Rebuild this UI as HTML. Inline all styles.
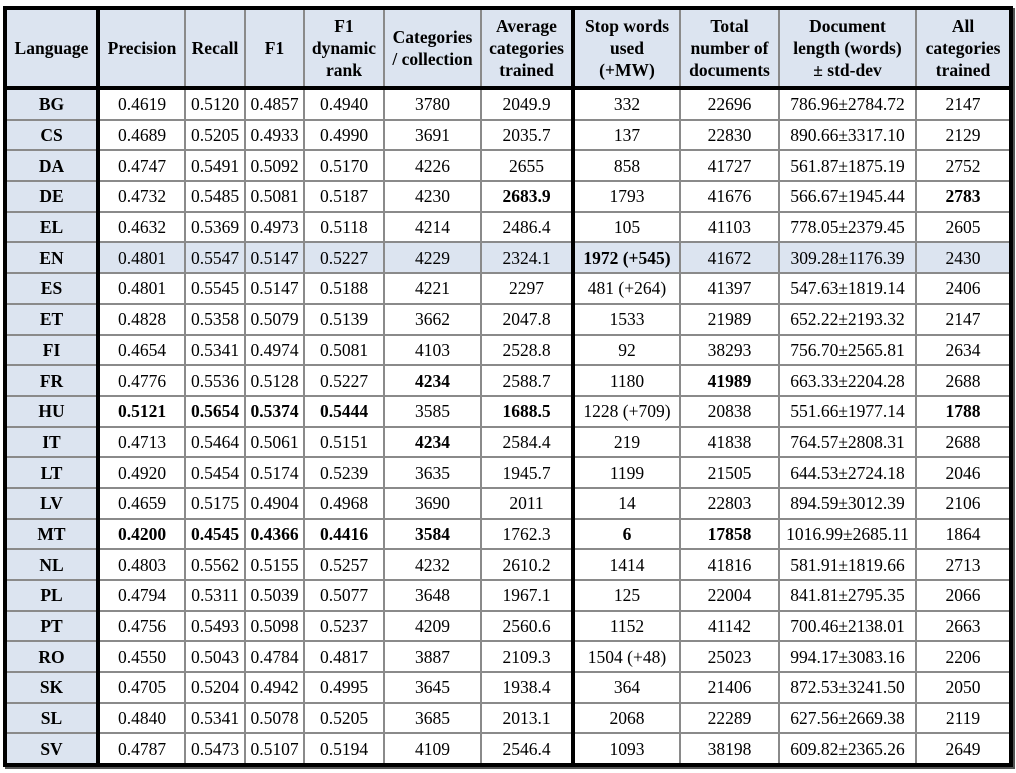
<!DOCTYPE html>
<html><head><meta charset="utf-8">
<style>
html,body{margin:0;padding:0;background:#fff;width:1016px;height:773px;overflow:hidden}
table{position:absolute;left:3px;top:6px;width:1006px;border-collapse:collapse;table-layout:fixed;
 font-family:"Liberation Serif",serif;font-size:17.5px;color:#000;border:4px solid #000;box-shadow:2px 2px 0 #555}
th,td{border:2px solid #8a8a8a;text-align:center;padding:0;white-space:nowrap;overflow:hidden}
th{background:#dce4f0;font-weight:bold;height:76px;line-height:22px;border-bottom:4px solid #000}
td{height:28.7px;line-height:20px}
td.lang{background:#dce4f0;font-weight:bold}
tr.hl td{background:#dce4f0}
.c0{border-right:4px solid #000}
.c3{border-right:1px solid #000}
.c5{border-right:1px solid #000}
.c6{border-right:4px solid #000}
</style></head><body>
<table>
<colgroup><col style="width:93px"><col style="width:87px"><col style="width:60px"><col style="width:59px"><col style="width:80px"><col style="width:97px"><col style="width:92px"><col style="width:107px"><col style="width:99px"><col style="width:137px"><col style="width:95px"></colgroup>
<thead><tr>
<th class="c0">Language</th>
<th>Precision</th>
<th>Recall</th>
<th class="c3">F1</th>
<th>F1<br>dynamic<br>rank</th>
<th class="c5">Categories<br>/ collection</th>
<th class="c6">Average<br>categories<br>trained</th>
<th>Stop words<br>used<br>(+MW)</th>
<th>Total<br>number of<br>documents</th>
<th>Document<br>length (words)<br>± std-dev</th>
<th>All<br>categories<br>trained</th>
</tr></thead>
<tbody id="tb"></tbody>
</table>
<script>
const rows = [
["BG","0.4619","0.5120","0.4857","0.4940","3780","2049.9","332","22696","786.96±2784.72","2147"],
["CS","0.4689","0.5205","0.4933","0.4990","3691","2035.7","137","22830","890.66±3317.10","2129"],
["DA","0.4747","0.5491","0.5092","0.5170","4226","2655","858","41727","561.87±1875.19","2752"],
["DE","0.4732","0.5485","0.5081","0.5187","4230","*2683.9","1793","41676","566.67±1945.44","*2783"],
["EL","0.4632","0.5369","0.4973","0.5118","4214","2486.4","105","41103","778.05±2379.45","2605"],
["EN","0.4801","0.5547","0.5147","0.5227","4229","2324.1","*1972 (+545)","41672","309.28±1176.39","2430"],
["ES","0.4801","0.5545","0.5147","0.5188","4221","2297","481 (+264)","41397","547.63±1819.14","2406"],
["ET","0.4828","0.5358","0.5079","0.5139","3662","2047.8","1533","21989","652.22±2193.32","2147"],
["FI","0.4654","0.5341","0.4974","0.5081","4103","2528.8","92","38293","756.70±2565.81","2634"],
["FR","0.4776","0.5536","0.5128","0.5227","*4234","2588.7","1180","*41989","663.33±2204.28","2688"],
["HU","*0.5121","*0.5654","*0.5374","*0.5444","3585","*1688.5","1228 (+709)","20838","551.66±1977.14","*1788"],
["IT","0.4713","0.5464","0.5061","0.5151","*4234","2584.4","219","41838","764.57±2808.31","2688"],
["LT","0.4920","0.5454","0.5174","0.5239","3635","1945.7","1199","21505","644.53±2724.18","2046"],
["LV","0.4659","0.5175","0.4904","0.4968","3690","2011","14","22803","894.59±3012.39","2106"],
["MT","*0.4200","*0.4545","*0.4366","*0.4416","*3584","1762.3","*6","*17858","1016.99±2685.11","1864"],
["NL","0.4803","0.5562","0.5155","0.5257","4232","2610.2","1414","41816","581.91±1819.66","2713"],
["PL","0.4794","0.5311","0.5039","0.5077","3648","1967.1","125","22004","841.81±2795.35","2066"],
["PT","0.4756","0.5493","0.5098","0.5237","4209","2560.6","1152","41142","700.46±2138.01","2663"],
["RO","0.4550","0.5043","0.4784","0.4817","3887","2109.3","1504 (+48)","25023","994.17±3083.16","2206"],
["SK","0.4705","0.5204","0.4942","0.4995","3645","1938.4","364","21406","872.53±3241.50","2050"],
["SL","0.4840","0.5341","0.5078","0.5205","3685","2013.1","2068","22289","627.56±2669.38","2119"],
["SV","0.4787","0.5473","0.5107","0.5194","4109","2546.4","1093","38198","609.82±2365.26","2649"]
];
const colNames = ["language","precision","recall","f1","f1-dynamic-rank","categories","average-categories","stop-words","total-documents","document-length","all-categories"];
const tb = document.getElementById('tb');
rows.forEach(r => {
  const tr = document.createElement('tr');
  
  
  if (r[0] === 'EN') tr.className = 'hl';
  r.forEach((v, i) => {
    const td = document.createElement('td');
    
    
    let cls = 'c' + i;
    if (i === 0) cls += ' lang';
    td.className = cls;
    if (v.startsWith('*')) { td.style.fontWeight = 'bold'; v = v.slice(1); }
    td.textContent = v;
    tr.appendChild(td);
  });
  tb.appendChild(tr);
});
</script>
</body></html>
